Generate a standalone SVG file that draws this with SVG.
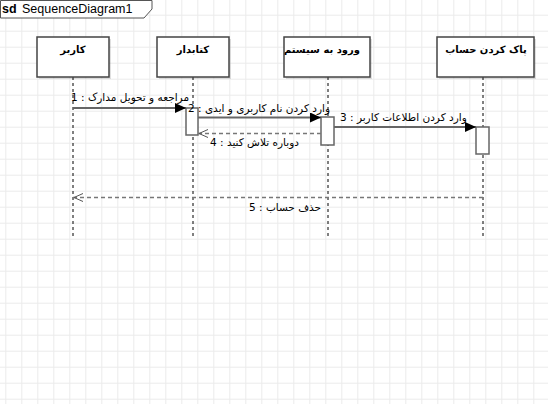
<svg xmlns="http://www.w3.org/2000/svg" width="548" height="404" viewBox="0 0 548 404">
<defs>
<pattern id="grid" x="5.3" y="14.7" width="16" height="16" patternUnits="userSpaceOnUse">
<path d="M0.5,0 V16 M0,0.5 H16" fill="none" stroke="#ebebeb" stroke-width="1"/>
</pattern>
<marker id="filled" markerWidth="12" markerHeight="10" refX="11" refY="5" orient="auto" markerUnits="userSpaceOnUse">
<path d="M0,0 L11,5 L0,10 Z" fill="#000"/>
</marker>
<marker id="open" markerWidth="12" markerHeight="10" refX="11" refY="5" orient="auto" markerUnits="userSpaceOnUse">
<path d="M1,1 L10,5 L1,9" fill="none" stroke="#555" stroke-width="1"/>
</marker>
</defs>
<style>
.head{fill:#fff;stroke:#444;stroke-width:1.5}
.shadow{fill:#000;opacity:0.12}
.hlabel{font-family:"DejaVu Sans","Liberation Sans",sans-serif;font-size:10px;font-weight:bold;fill:#000;text-anchor:middle}
.life{stroke:#000;stroke-width:1;stroke-dasharray:3,3;fill:none}
.act{fill:#fff;stroke:#666;stroke-width:1.5}
.msg{stroke:#666;stroke-width:2;fill:none}
.ret{stroke:#777;stroke-width:1.5;stroke-dasharray:4,3;fill:none}
.mlabel{font-family:"DejaVu Sans","Liberation Sans",sans-serif;font-size:10.5px;fill:#000}
</style>
<rect width="548" height="404" fill="#fff"/>
<rect width="548" height="404" fill="url(#grid)"/>

<g id="frame">
<path d="M0.5,0.5 H152 V9 L144,18 H0.5 Z" fill="#fff" stroke="#555" stroke-width="1"/>
<text x="2" y="13" font-family="Liberation Sans, Arial, sans-serif" font-size="12.5" font-weight="bold">sd</text>
<text x="22" y="13" font-family="Liberation Sans, Arial, sans-serif" font-size="12.5">SequenceDiagram1</text>
</g>

<g id="lifeline-user">
<line class="life" x1="73" y1="77" x2="73" y2="238"/>
<rect class="shadow" x="39" y="39" width="72" height="40"/>
<rect class="head" x="37" y="37" width="72" height="40"/>
<text class="hlabel" x="73" y="53">کاربر</text>
</g>

<g id="lifeline-librarian">
<line class="life" x1="193" y1="77" x2="193" y2="238"/>
<rect class="shadow" x="159" y="39" width="72" height="40"/>
<rect class="head" x="157" y="37" width="72" height="40"/>
<text class="hlabel" x="193" y="53">کتابدار</text>
<rect class="act" x="186" y="108" width="12" height="27"/>
</g>

<g id="lifeline-login">
<line class="life" x1="328" y1="77" x2="328" y2="238"/>
<rect class="shadow" x="286" y="39" width="86" height="40"/>
<rect class="head" x="284" y="37" width="86" height="40"/>
<text class="hlabel" x="322" y="53">ورود به سیستم</text>
<rect class="act" x="321" y="117" width="13" height="28"/>
</g>

<g id="lifeline-delete">
<line class="life" x1="483" y1="77" x2="483" y2="238"/>
<rect class="shadow" x="439" y="39" width="97" height="40"/>
<rect class="head" x="437" y="37" width="97" height="40"/>
<text class="hlabel" x="486" y="53">پاک کردن حساب</text>
<rect class="act" x="476" y="127" width="13" height="27"/>
</g>

<g id="connectors">
<line class="msg" x1="73" y1="108" x2="186" y2="108" marker-end="url(#filled)"/>
<text class="mlabel" x="71" y="101">1 : مراجعه و تحویل مدارک</text>
<line class="msg" x1="198" y1="117.5" x2="321" y2="117.5" marker-end="url(#filled)"/>
<text class="mlabel" x="188" y="112">2 : وارد کردن نام کاربری و ایدی</text>
<line class="msg" x1="334" y1="127" x2="476" y2="127" marker-end="url(#filled)"/>
<text class="mlabel" x="340" y="121">3 : وارد کردن اطلاعات کاربر</text>
<line class="ret" x1="321" y1="133.5" x2="198" y2="133.5" marker-end="url(#open)"/>
<text class="mlabel" x="210" y="146">4 : دوباره تلاش کنید</text>
<line class="ret" x1="483" y1="197.5" x2="73" y2="197.5" marker-end="url(#open)"/>
<text class="mlabel" x="249" y="211">5 : حذف حساب</text>
</g>
</svg>
